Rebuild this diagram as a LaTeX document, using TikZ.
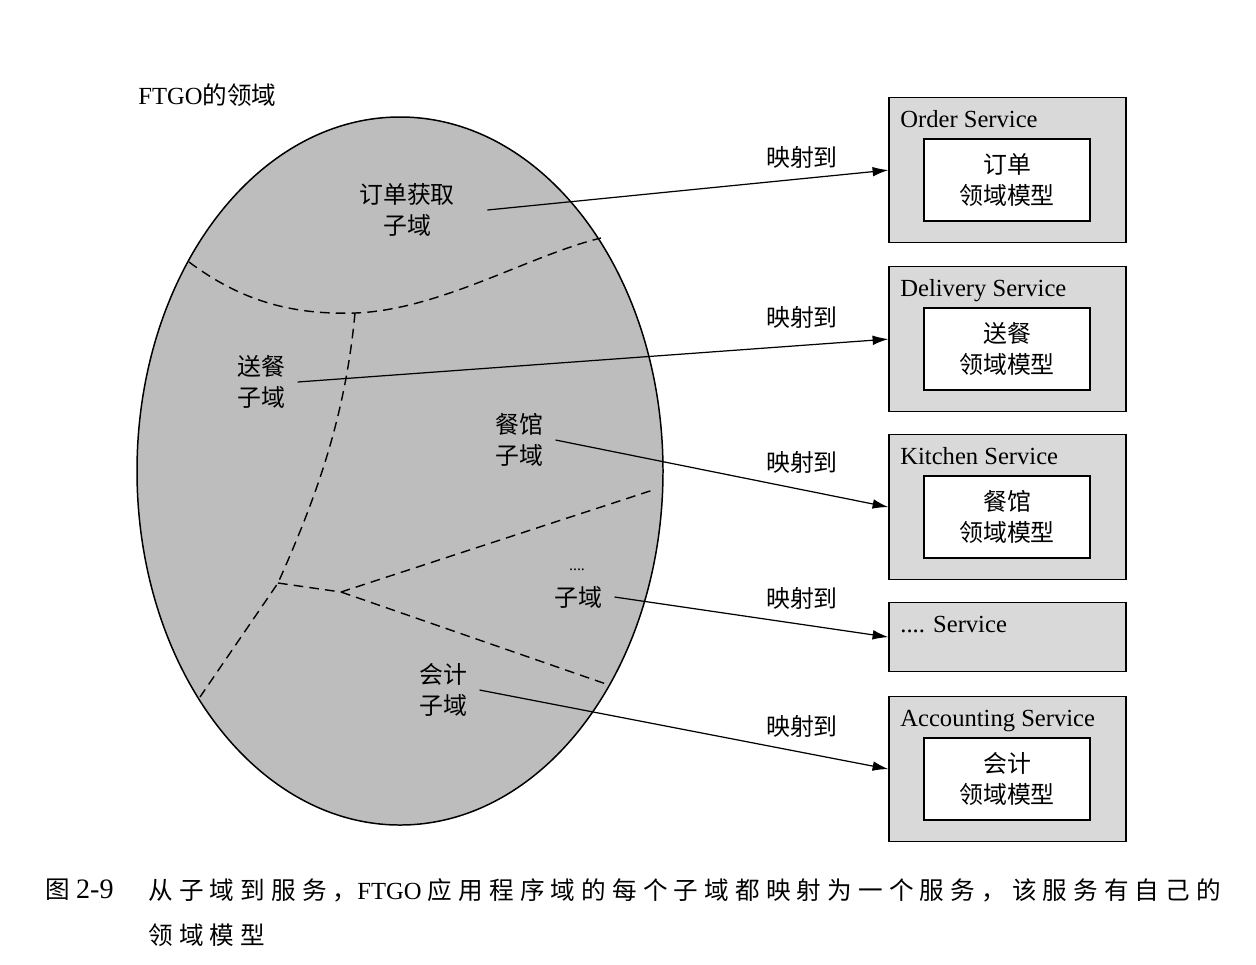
\documentclass[tikz,border=0pt]{standalone}
\usepackage{fontspec}
\setmainfont{Liberation Serif}
\newfontfamily\cjk{Noto Sans CJK SC}
\newfontfamily\capcjk[LetterSpace=25]{Noto Sans CJK SC}
\usetikzlibrary{arrows.meta}

\begin{document}
\begin{tikzpicture}[x=0.02cm,y=-0.02cm,
    txt/.style={font=\fontsize{14}{17}\selectfont},
    zh/.style={font=\cjk\fontsize{13.6}{17.6}\selectfont,align=center},
    subdom/.style={zh,inner xsep=7pt},
    map/.style={-{Latex[length=9pt,width=5.5pt]},line width=0.7pt},
    border/.style={line width=0.8pt,dash pattern=on 5.5pt off 3.5pt},
    svc/.style={draw,line width=0.7pt,fill=black!15,minimum width=4.74cm,minimum height=2.9cm},
    model/.style={zh,draw,line width=0.7pt,fill=white,minimum width=3.32cm,minimum height=1.64cm},
    captxt/.style={anchor=west,inner sep=0,font=\fontsize{14}{17}\selectfont}]
    \useasboundingbox (0,0) rectangle (1256,964);
    %domain
    \node[txt,anchor=west,inner sep=0] (title) at (138,95) {FTGO{\cjk 的领域}};
    \draw[line width=0.85pt,fill=black!26] (400,471) ellipse [x radius=263,y radius=354];
    \draw[border] (189,262) .. controls (240,300) and (290,315) .. (355,313)
                            .. controls (440,310) and (530,255) .. (601,238);
    \draw[border] (355,313) .. controls (345,420) and (315,500) .. (278,583) -- (200,697);
    \draw[border] (278,583) -- (341,592) -- (653,490);
    \draw[border] (341,592) -- (609,685);

    \node[subdom] (ordsub) at (407,210) {订单获取\\子域};
    \node[subdom] (delsub) at (261,382) {送餐\\子域};
    \node[subdom] (kitsub) at (519,440) {餐馆\\子域};
    \node[font=\fontsize{9}{10}\selectfont,inner sep=0] (dots) at (577,570) {....};
    \node[subdom] (othsub) at (578,597) {子域};
    \node[subdom] (accsub) at (443,690) {会计\\子域};

    %services
    \foreach \nm/\ttl/\dm/\y in {ord/Order/订单/97, del/Delivery/送餐/266,
                                 kit/Kitchen/餐馆/434, acc/Accounting/会计/696}{
      \node[svc,anchor=north] (\nm svc) at (1007.5,\y) {};
      \node[txt,anchor=base west,inner sep=0] (\nm ttl) at (900,\y+30) {\ttl{} Service};
      \node[model] (\nm dm) at (1007,\y+83) {\dm\\领域模型};
    }
    \node[svc,anchor=north,minimum height=1.38cm] (othsvc) at (1007.5,602) {};
    \node[txt,anchor=base west,inner sep=0] (othttl) at (900,632) {.... Service};

    %mapping
    \draw[map] ([xshift=0.4cm]ordsub.east) -- (ordsvc.west);
    \draw[map] (delsub.east) -- (delsvc.west);
    \draw[map] (kitsub.east) -- (kitsvc.west);
    \draw[map] (othsub.east) -- (othsvc.west);
    \draw[map] (accsub.east) -- (accsvc.west);
    \foreach \y [count=\i] in {157,317,462,598,726}
      \node[zh] (map\i) at (802,\y) {映射到};

    %caption
    \node[captxt] (capnum) at (45,890) {{\capcjk 图} \fontsize{16}{17}\selectfont 2-9};
    \node[captxt] (cap1) at (148,890)
      {{\capcjk 从子域到服务，}FTGO {\capcjk 应用程序域的每个子域都映射为一个服务，该服务有自己的}};
    \node[captxt] (cap2) at (148,935) {{\capcjk 领域模型}};
\end{tikzpicture}
\end{document}
